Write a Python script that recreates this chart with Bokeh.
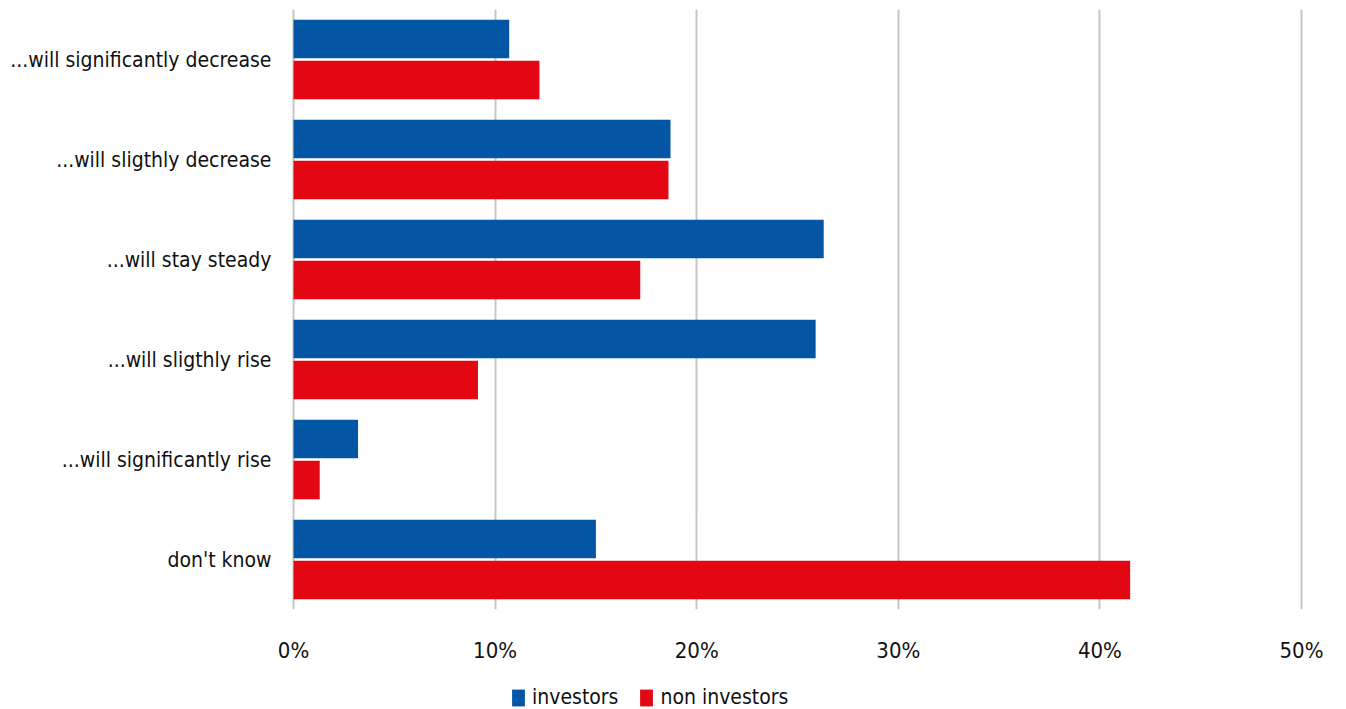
from bokeh.plotting import figure
from bokeh.layouts import column
from bokeh.models import ColumnDataSource, FactorRange, Range1d, Legend, LegendItem, NumeralTickFormatter, FixedTicker
from bokeh.transform import dodge
from bokeh.embed import file_html
from bokeh.resources import INLINE

categories = ["...will significantly decrease", "...will sligthly decrease", "...will stay steady",
              "...will sligthly rise", "...will significantly rise", "don't know"]
investors = [10.7, 18.7, 26.3, 25.9, 3.2, 15.0]
non_investors = [12.2, 18.6, 17.2, 9.15, 1.3, 41.5]
series_names = ["investors", "non investors"]
x_ticks = [0, 10, 20, 30, 40, 50]

BLUE = "#0256A4"
RED = "#E30714"
FONT = "'Liberation Sans Narrow', 'Arial Narrow', 'DejaVu Sans Condensed', sans-serif"

src = ColumnDataSource(dict(cat=categories, inv=investors, non=non_investors))

p = figure(width=1346, height=672, output_backend="svg", toolbar_location=None,
           y_range=FactorRange(factors=list(reversed(categories))),
           x_range=Range1d(-0.1, 50.1),
           min_border_left=291, min_border_right=43, min_border_top=9, min_border_bottom=63)
p.outline_line_color = None

p.hbar(y=dodge("cat", 0.205, range=p.y_range), right="inv", left=0, height=0.385,
       source=src, fill_color=BLUE, line_color=None)
p.hbar(y=dodge("cat", -0.205, range=p.y_range), right="non", left=0, height=0.385,
       source=src, fill_color=RED, line_color=None)

p.xaxis.ticker = FixedTicker(ticks=x_ticks)
p.xaxis.formatter = NumeralTickFormatter(format="0")
p.xaxis.major_label_overrides = {t: f"{t}%" for t in x_ticks}
p.xaxis.axis_line_color = None
p.xaxis.major_tick_line_color = None
p.xaxis.minor_tick_line_color = None
p.xaxis.major_label_standoff = 22
p.xaxis.major_label_text_font = FONT
p.xaxis.major_label_text_font_size = "22px"
p.xaxis.major_label_text_color = "#111111"

p.yaxis.axis_line_color = None
p.yaxis.major_tick_line_color = None
p.yaxis.minor_tick_line_color = None
p.yaxis.major_label_standoff = 14
p.yaxis.major_label_text_font = FONT
p.yaxis.major_label_text_font_size = "21px"
p.yaxis.major_label_text_color = "#111111"

p.xgrid.grid_line_color = "#c6c6c6"
p.xgrid.grid_line_width = 2
p.ygrid.grid_line_color = None

# legend strip below the chart
lg = figure(width=1346, height=37, output_backend="svg", toolbar_location=None,
            x_axis_type=None, y_axis_type=None, x_range=Range1d(0, 1),
            y_range=FactorRange(factors=series_names),
            min_border_left=291, min_border_right=43, min_border_top=0, min_border_bottom=0)
lg.outline_line_color = None
lg.xgrid.visible = False
lg.ygrid.visible = False
# zero-width placeholder bars: only their legend swatches are shown
g1 = lg.hbar(y=[series_names[0]], left=[0], right=[0], height=0.5, fill_color=BLUE, line_color=None)
g2 = lg.hbar(y=[series_names[1]], left=[0], right=[0], height=0.5, fill_color=RED, line_color=None)
legend = Legend(items=[LegendItem(label=series_names[0], renderers=[g1]),
                       LegendItem(label=series_names[1], renderers=[g2])],
                orientation="horizontal", location=(219, 0),
                glyph_width=16, glyph_height=21, label_standoff=6, spacing=20,
                padding=0, margin=0, border_line_color=None, background_fill_alpha=0,
                label_text_font=FONT, label_text_font_size="21px", label_text_color="#111111")
lg.add_layout(legend, "center")

layout = column(p, lg, spacing=0)
open("out.html", "w").write(file_html(layout, INLINE))
